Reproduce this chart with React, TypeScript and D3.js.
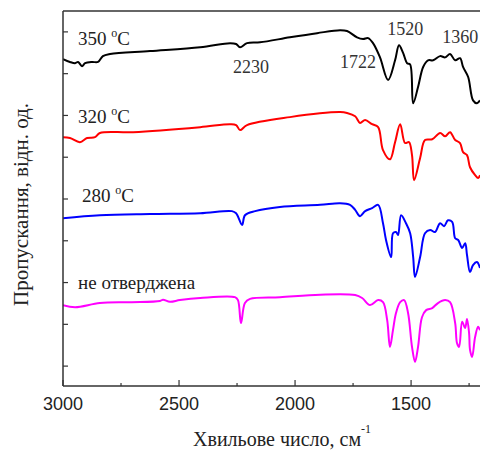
import React from 'react';
import * as d3 from 'd3';

// IR spectra, wavenumber (cm-1) vs transmittance (arb. units, offset curves)
const cured350: [number, number][] = [
  [3000, 8.35], [2970, 8.28], [2948, 8.25], [2935, 8.28], [2918, 8.18], [2905, 8.25],
  [2875, 8.28], [2849, 8.28], [2828, 8.42], [2797, 8.47], [2625, 8.54], [2409, 8.63],
  [2280, 8.73], [2254, 8.71], [2237, 8.63], [2207, 8.73], [2151, 8.75], [2022, 8.87],
  [1905, 8.97], [1806, 9.04], [1776, 9.02], [1733, 8.87], [1707, 8.83], [1685, 8.85],
  [1664, 8.73], [1634, 8.39], [1599, 7.85], [1569, 8.32], [1552, 8.68], [1534, 8.49],
  [1517, 8.25], [1504, 8.22], [1491, 7.29], [1470, 7.68], [1448, 8.16], [1427, 8.32],
  [1405, 8.32], [1375, 8.42], [1353, 8.39], [1332, 8.47], [1310, 8.32], [1289, 8.37],
  [1276, 8.16], [1254, 7.92], [1233, 7.36], [1216, 7.29], [1203, 7.36],
];

const cured320: [number, number][] = [
  [3000, 6.48], [2970, 6.46], [2927, 6.36], [2896, 6.46], [2862, 6.48], [2841, 6.58],
  [2698, 6.6], [2409, 6.72], [2280, 6.79], [2254, 6.77], [2237, 6.65], [2207, 6.77],
  [2022, 6.96], [1806, 7.08], [1776, 7.06], [1741, 6.98], [1720, 6.82], [1698, 6.89],
  [1668, 6.79], [1642, 6.72], [1621, 6.17], [1591, 5.95], [1569, 6.36], [1547, 6.79],
  [1526, 6.34], [1509, 6.36], [1496, 6.05], [1487, 5.45], [1461, 5.98], [1440, 6.41],
  [1409, 6.43], [1375, 6.58], [1353, 6.5], [1332, 6.6], [1310, 6.41], [1289, 6.34],
  [1276, 6.12], [1259, 6.05], [1246, 5.76], [1224, 5.57], [1211, 5.5], [1203, 5.57],
];

const cured280: [number, number][] = [
  [3000, 4.54], [2841, 4.61], [2625, 4.64], [2409, 4.66], [2272, 4.71], [2254, 4.66],
  [2228, 4.38], [2216, 4.61], [2172, 4.71], [2065, 4.81], [1892, 4.86], [1806, 4.9],
  [1763, 4.86], [1741, 4.74], [1720, 4.59], [1698, 4.71], [1668, 4.78], [1642, 4.86],
  [1621, 4.42], [1608, 4.02], [1586, 3.61], [1578, 4.18], [1565, 4.21], [1556, 4.14],
  [1543, 4.61], [1522, 4.42], [1504, 4.18], [1491, 3.61], [1483, 3.13], [1461, 3.61],
  [1440, 4.18], [1418, 4.26], [1397, 4.21], [1375, 4.42], [1358, 4.35], [1341, 4.49],
  [1323, 4.45], [1310, 4.06], [1297, 4.02], [1280, 3.83], [1267, 3.94], [1259, 3.66],
  [1246, 3.25], [1233, 3.42], [1216, 3.49], [1203, 3.35],
];

const uncured: [number, number][] = [
  [3000, 2.46], [2948, 2.41], [2841, 2.51], [2711, 2.53], [2582, 2.56], [2569, 2.59],
  [2539, 2.54], [2496, 2.58], [2409, 2.63], [2259, 2.65], [2246, 2.58], [2233, 2.03],
  [2216, 2.51], [2194, 2.61], [2065, 2.65], [1892, 2.71], [1741, 2.7], [1711, 2.63],
  [1677, 2.46], [1642, 2.58], [1621, 2.53], [1603, 2.1], [1591, 1.46], [1578, 1.86],
  [1565, 2.27], [1547, 2.53], [1530, 2.58], [1513, 2.27], [1496, 1.46], [1483, 1.1],
  [1470, 1.46], [1453, 2.17], [1435, 2.34], [1409, 2.39], [1384, 2.51], [1353, 2.58],
  [1332, 2.53], [1310, 2.03], [1302, 1.55], [1293, 1.46], [1280, 2.06], [1267, 1.91],
  [1259, 2.13], [1250, 1.79], [1246, 1.39], [1237, 1.22], [1224, 1.7], [1211, 1.94],
  [1203, 1.86],
];

const xMajorTicks = [3000, 2500, 2000, 1500];
const xMinorTicks = [2750, 2250, 1750, 1250];
const yTicks = [1, 2, 3, 4, 5, 6, 7, 8, 9];

// curve labels: text, wavenumber at text start, value at baseline
const curveLabels = [
  { temp: '350', w: 2935, v: 8.68 },
  { temp: '320', w: 2935, v: 6.82 },
  { temp: '280', w: 2918, v: 4.93 },
];
const uncuredLabel = { text: 'не отверджена', w: 2935, v: 2.84 };

const peakLabels = [
  { text: '2230', w: 2267, v: 8.01 },
  { text: '1722', w: 1806, v: 8.13 },
  { text: '1520', w: 1603, v: 8.92 },
  { text: '1360', w: 1366, v: 8.73 },
];

const series = [
  { data: cured350, color: '#000000' },
  { data: cured320, color: '#ff0000' },
  { data: cured280, color: '#0000ff' },
  { data: uncured, color: '#ff00ff' },
];

const W = 480;
const H = 452;
const margin = { top: 11, right: 0, bottom: 66, left: 63 };

const serif = '"Liberation Serif", "Times New Roman", serif';
const sans = '"Liberation Sans", Arial, sans-serif';

export default function App() {
  const x = d3.scaleLinear().domain([3000, 1203]).range([margin.left, W - margin.right]);
  const y = d3.scaleLinear().domain([0.5, 9.5]).range([H - margin.bottom + 1, margin.top]);

  const line = d3
    .line<[number, number]>()
    .x((d) => x(d[0]))
    .y((d) => y(d[1]))
    .curve(d3.curveCatmullRom.alpha(0.5));

  const bottom = H - margin.bottom;
  const axisColor = '#333';

  return (
    <svg
      width={W}
      height={H}
      style={{ position: 'absolute', left: 0, top: 0, display: 'block', background: '#fff' }}
    >
      <defs>
        <clipPath id="plot">
          <rect x={margin.left} y={margin.top} width={W - margin.left} height={bottom - margin.top} />
        </clipPath>
      </defs>

      {/* curves */}
      <g clipPath="url(#plot)">
        {series.map((s, i) => (
          <path key={i} d={line(s.data) || ''} fill="none" stroke={s.color} strokeWidth={2} strokeLinejoin="round" />
        ))}
      </g>

      {/* frame */}
      <line x1={margin.left} x2={margin.left} y1={margin.top} y2={bottom} stroke={axisColor} strokeWidth={1.5} />
      <line x1={margin.left} x2={W} y1={margin.top} y2={margin.top} stroke={axisColor} strokeWidth={1.5} />
      <line x1={margin.left} x2={W} y1={bottom} y2={bottom} stroke={axisColor} strokeWidth={1.5} />

      {/* y ticks (no labels) */}
      {yTicks.map((t) => (
        <line key={t} x1={margin.left} x2={margin.left + 5} y1={y(t)} y2={y(t)} stroke={axisColor} strokeWidth={1.2} />
      ))}

      {/* x ticks */}
      {xMajorTicks.map((t) => (
        <g key={t}>
          <line x1={x(t)} x2={x(t)} y1={bottom} y2={bottom - 6} stroke={axisColor} strokeWidth={1.2} />
          <text x={x(t)} y={bottom + 24} textAnchor="middle" fontFamily={sans} fontSize={18} fill="#222">
            {t}
          </text>
        </g>
      ))}
      {xMinorTicks.map((t) => (
        <line key={t} x1={x(t)} x2={x(t)} y1={bottom} y2={bottom - 3} stroke={axisColor} strokeWidth={1.2} />
      ))}

      {/* axis titles */}
      <text x={193} y={446} fontFamily={serif} fontSize={20} fill="#222">
        Хвильове число, см
        <tspan fontSize={12} dy={-13}>-1</tspan>
      </text>
      <text
        transform={`translate(28, ${(margin.top + bottom) / 2 + 6}) rotate(-90)`}
        textAnchor="middle"
        fontFamily={serif}
        fontSize={21}
        fill="#222"
      >
        Пропускання, відн. од.
      </text>

      {/* curve labels */}
      {curveLabels.map((l) => (
        <text key={l.temp} x={x(l.w)} y={y(l.v)} fontFamily={serif} fontSize={19} fill="#222">
          {l.temp + ' '}
          <tspan fontSize={12} dy={-8}>o</tspan>
          <tspan dy={8}>C</tspan>
        </text>
      ))}
      <text x={x(uncuredLabel.w)} y={y(uncuredLabel.v)} fontFamily={serif} fontSize={19} fill="#222">
        {uncuredLabel.text}
      </text>

      {/* peak labels */}
      {peakLabels.map((l) => (
        <text key={l.text} x={x(l.w)} y={y(l.v)} fontFamily={serif} fontSize={18} fill="#333">
          {l.text}
        </text>
      ))}
    </svg>
  );
}
